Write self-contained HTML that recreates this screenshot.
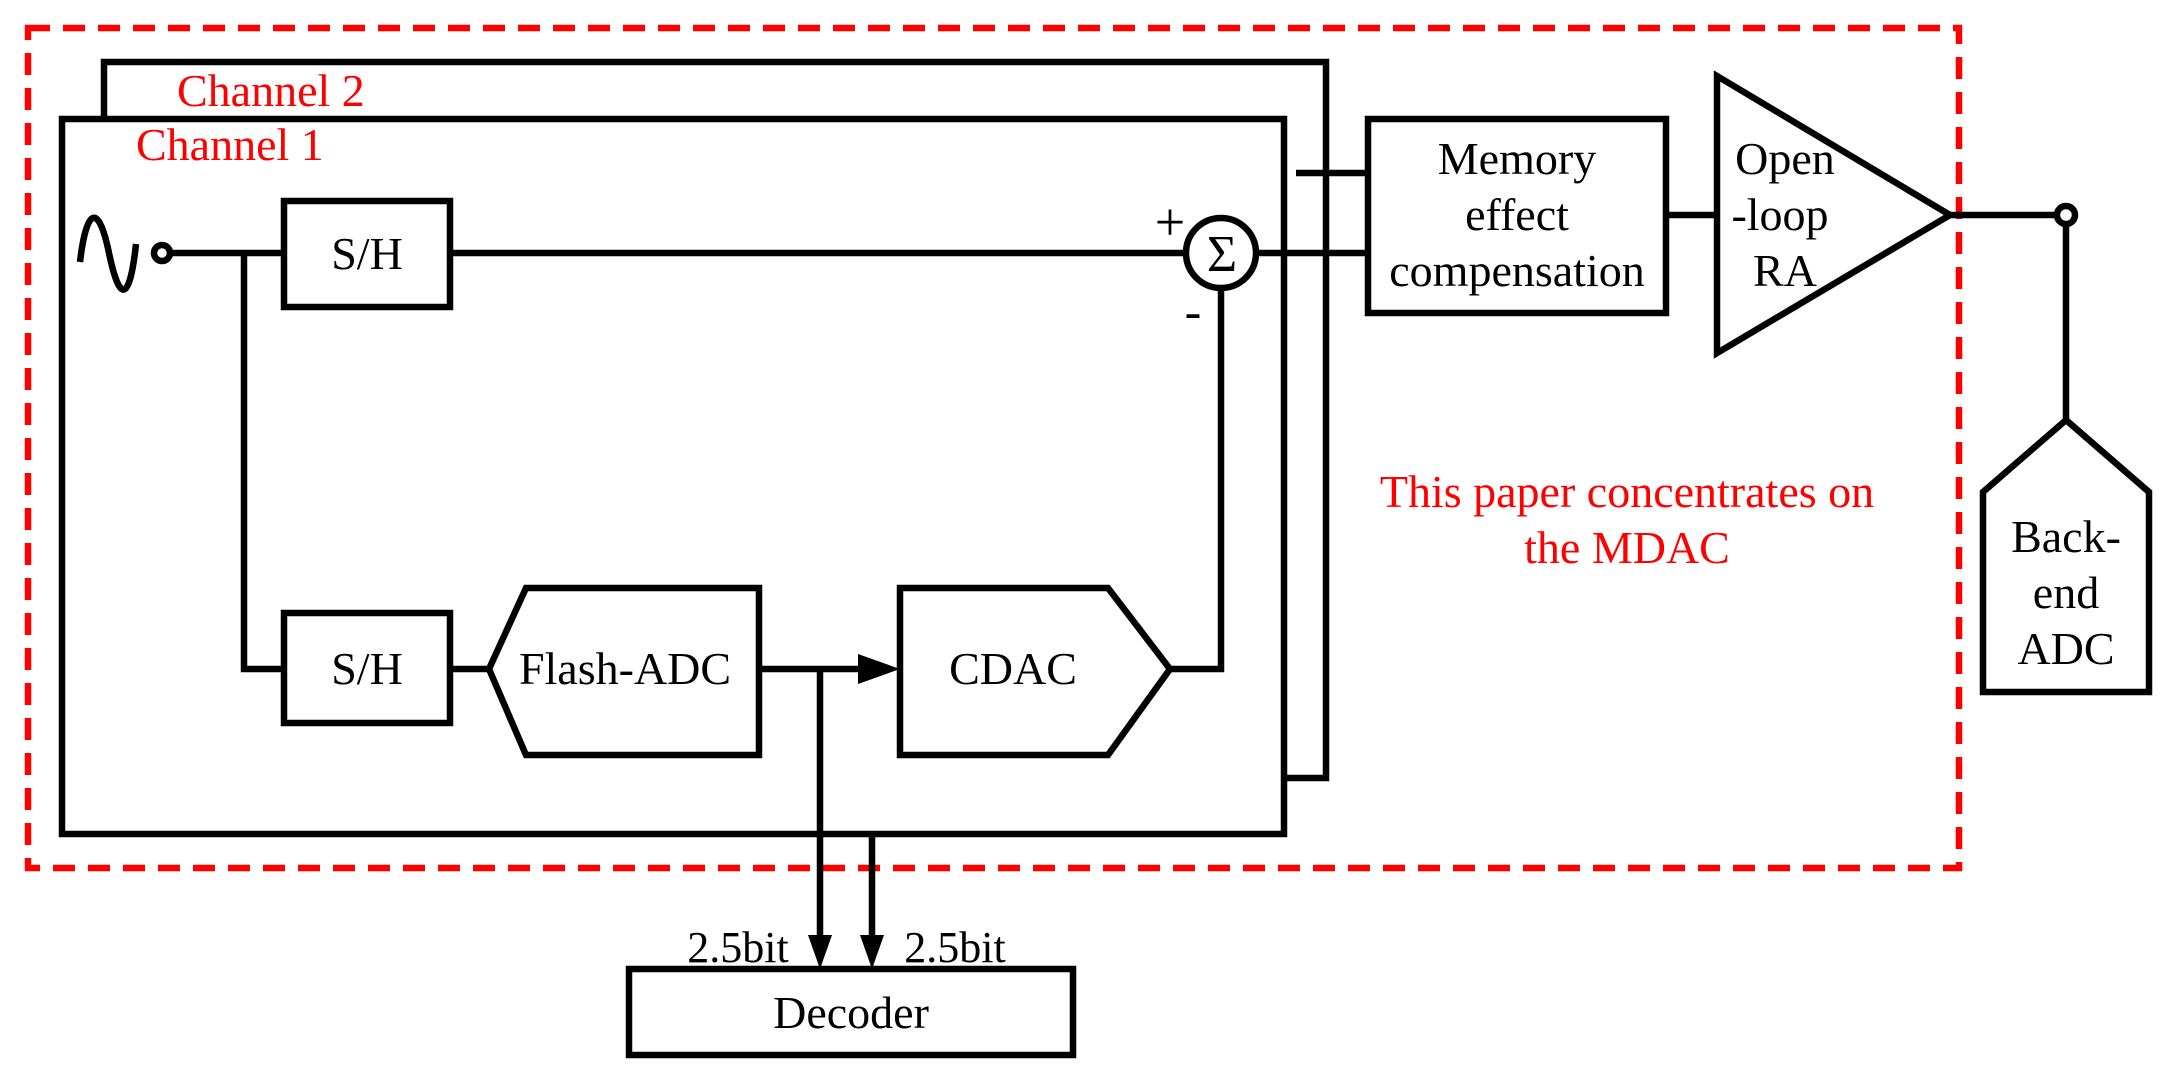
<!DOCTYPE html>
<html><head><meta charset="utf-8"><style>
html,body{margin:0;padding:0;background:#fff;}
svg{display:block;}
text{font-family:"Liberation Serif",serif;}
</style></head><body>
<svg width="2171" height="1083" viewBox="0 0 2171 1083" xmlns="http://www.w3.org/2000/svg">
<g fill="none" stroke="#000" stroke-width="6.5" stroke-linejoin="miter">
<rect x="28" y="28" width="1931" height="840" stroke="#f00" stroke-width="6.5" stroke-dasharray="22 13"/>
<polyline points="104,119 104,62 1326,62 1326,778 1284,778"/>
<rect x="62" y="119" width="1222" height="715"/>
<path d="M80,262 C86,210 98,200 109,253 C120,306 130,300 136,244"/>
<circle cx="162" cy="253" r="8"/>
<line x1="170" y1="253" x2="284" y2="253"/>
<polyline points="244,253 244,669 284,669"/>
<rect x="284" y="201" width="166" height="106"/>
<rect x="284" y="613" width="166" height="110"/>
<line x1="450" y1="253" x2="1186" y2="253"/>
<line x1="450" y1="669" x2="489" y2="669"/>
<polygon points="489,669 526,588 759,588 759,755 526,755"/>
<polygon points="900,588 1108,588 1170,669 1108,755 900,755"/>
<line x1="759" y1="669" x2="870" y2="669"/>
<line x1="820" y1="669" x2="820" y2="935"/>
<line x1="872" y1="834" x2="872" y2="935"/>
<rect x="629" y="969" width="444" height="86"/>
<circle cx="1221" cy="253" r="35"/>
<polyline points="1221,288 1221,669 1170,669"/>
<line x1="1256" y1="253" x2="1368" y2="253"/>
<line x1="1296" y1="173" x2="1368" y2="173"/>
<rect x="1368" y="119" width="298" height="194"/>
<line x1="1666" y1="215" x2="1717" y2="215"/>
<polygon points="1717,76 1950,215 1717,353"/>
<line x1="1950" y1="215" x2="2057" y2="215"/>
<circle cx="2066" cy="215" r="9"/>
<line x1="2066" y1="224" x2="2066" y2="420"/>
<polygon points="2066,420 2149,492 2149,692 1983,692 1983,492"/>
</g>
<g fill="#000">
<polygon points="858,654 900,669 858,684"/>
<polygon points="808,935 832,935 820,969"/>
<polygon points="860,935 884,935 872,969"/>
</g>
<g font-size="46" fill="#000" text-anchor="middle">
<text x="367" y="269">S/H</text>
<text x="367" y="684">S/H</text>
<text x="625" y="684">Flash-ADC</text>
<text x="1013" y="684">CDAC</text>
<text x="851" y="1028">Decoder</text>
<text x="1222" y="271" font-size="52">Σ</text>
<text x="1170" y="240" font-size="54">+</text>
<text x="1193" y="328" font-size="50">-</text>
<text x="1517" y="174">Memory</text>
<text x="1517" y="230">effect</text>
<text x="1517" y="286">compensation</text>
<text x="1785" y="174">Open</text>
<text x="1780" y="230">-loop</text>
<text x="1785" y="286">RA</text>
<text x="2066" y="552">Back-</text>
<text x="2066" y="608">end</text>
<text x="2066" y="664">ADC</text>
<text x="738" y="962" font-size="44">2.5bit</text>
<text x="955" y="962" font-size="44">2.5bit</text>
</g>
<g font-size="46" fill="#f00">
<text x="177" y="106">Channel 2</text>
<text x="136" y="160">Channel 1</text>
<text x="1627" y="507" text-anchor="middle">This paper concentrates on</text>
<text x="1627" y="563" text-anchor="middle">the MDAC</text>
</g>
</svg>
</body></html>
